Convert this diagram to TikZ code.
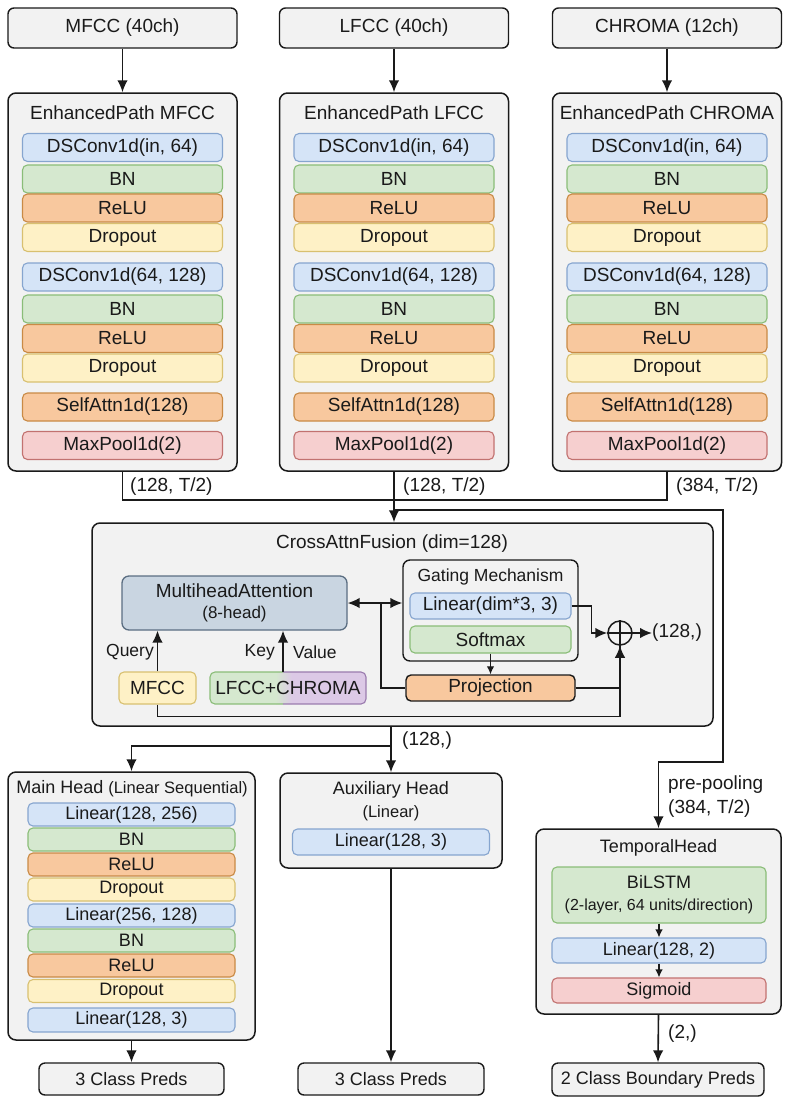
\documentclass[tikz,border=0pt]{standalone}
\usepackage{fontspec}
\setmainfont{Liberation Sans}
\usetikzlibrary{arrows.meta,calc}
\definecolor{bluef}{HTML}{D5E4F7}
\definecolor{blued}{HTML}{86A5CF}
\definecolor{greenf}{HTML}{D5E8CF}
\definecolor{greend}{HTML}{8ABD78}
\definecolor{orangef}{HTML}{F8C89E}
\definecolor{oranged}{HTML}{C98A45}
\definecolor{yellowf}{HTML}{FEF1C6}
\definecolor{yellowd}{HTML}{D8C070}
\definecolor{redf}{HTML}{F6CFCF}
\definecolor{redd}{HTML}{C27270}
\definecolor{grayf}{HTML}{F2F2F2}
\definecolor{mhaf}{HTML}{C9D5E1}
\definecolor{mhad}{HTML}{5B6E82}
\definecolor{purplef}{HTML}{DCC9E6}
\definecolor{purpled}{HTML}{9A7BAE}
\definecolor{inkc}{HTML}{1A1A1A}
\newcommand{\fA}{\fontsize{19}{21}\selectfont}
\newcommand{\fB}{\fontsize{18}{20}\selectfont}
\newcommand{\fS}{\fontsize{16.5}{18}\selectfont}
\newcommand{\enhpath}[4]{%
  \node[io, minimum width=229pt, minimum height=40pt, font=\fA] (#1in) at (#2,28) {#3};
  \node[cont, minimum width=229pt, minimum height=378pt] (#1c) at (#2,282) {};
  \node[font=\fA] (#1t) at (#2,113) {#4};
  \node[layer=blue,   erow] (#1a) at (#2,147.5) {DSConv1d(in, 64)};
  \node[layer=green,  erow] (#1b) at (#2,179) {BN};
  \node[layer=orange, erow] (#1r) at (#2,208) {ReLU};
  \node[layer=yellow, erow] (#1d) at (#2,237.5) {Dropout};
  \node[layer=blue,   erow] (#1e) at (#2,277) {DSConv1d(64, 128)};
  \node[layer=green,  erow] (#1f) at (#2,309) {BN};
  \node[layer=orange, erow] (#1g) at (#2,338.5) {ReLU};
  \node[layer=yellow, erow] (#1h) at (#2,368) {Dropout};
  \node[layer=orange, erow] (#1s) at (#2,407) {SelfAttn1d(128)};
  \node[layer=red,    erow] (#1p) at (#2,445.5) {MaxPool1d(2)};
  \draw[arr] (#1in.south) -- (#1c.north);
}
\begin{document}
\begin{tikzpicture}[x=1pt,y=-1pt,
  every node/.style={text=inkc, inner sep=0pt, font=\fB},
  cont/.style={draw=inkc, fill=grayf, line width=1.5pt, rounded corners=8pt},
  io/.style={draw=inkc, fill=grayf, line width=1.4pt, rounded corners=6pt},
  layer/.style={draw=#1d, fill=#1f, line width=1.1pt, rounded corners=5pt},
  erow/.style={minimum width=200pt, minimum height=28pt, font=\fA},
  mrow/.style={minimum width=207pt, minimum height=23pt, font=\fB},
  trow/.style={minimum width=214pt, minimum height=25pt, font=\fB},
  arr/.style={draw=inkc, line width=1.6pt, -{Latex[length=12pt,width=10.5pt]}},
  sarr/.style={draw=inkc, line width=1.3pt, -{Latex[length=8pt,width=7.5pt]}},
  ln/.style={draw=inkc, line width=1.6pt},
]
\fill[white] (0,0) rectangle (789,1104);
\useasboundingbox (0,0) rectangle (789,1104);

% ---------- enhanced paths ----------
\enhpath{m}{122.5}{MFCC (40ch)}{EnhancedPath MFCC}
\enhpath{l}{394}{LFCC (40ch)}{EnhancedPath LFCC}
\enhpath{c}{667}{CHROMA (12ch)}{EnhancedPath CHROMA}

% ---------- cross attention fusion ----------
\node[cont, minimum width=621pt, minimum height=203pt] (ca) at (402.5,624.5) {};
\node[font=\fA] (cat) at (392,544) {CrossAttnFusion (dim=128)};

\node[draw=mhad, fill=mhaf, line width=1.3pt, rounded corners=7pt,
      minimum width=225pt, minimum height=54pt, align=center] (mha) at (234.5,603)
      {{\fA MultiheadAttention}\\[1pt]{\fontsize{17}{19}\selectfont (8-head)}};

\node[layer=yellow, minimum width=77pt, minimum height=32pt, font=\fA] (mq) at (157.5,688) {MFCC};

% LFCC+CHROMA split fill
\begin{scope}
  \clip[rounded corners=5pt] (210,672) rectangle (366,704);
  \fill[greenf] (210,672) rectangle (276,704);
  \shade[left color=greenf, right color=purplef] (276,672) rectangle (292,704);
  \fill[purplef] (292,672) rectangle (366,704);
\end{scope}
\begin{scope}
  \clip (200,660) rectangle (283,716);
  \draw[greend, line width=1.1pt, rounded corners=5pt] (210,672) rectangle (366,704);
\end{scope}
\begin{scope}
  \clip (283,660) rectangle (380,716);
  \draw[purpled, line width=1.1pt, rounded corners=5pt] (210,672) rectangle (366,704);
\end{scope}
\node[minimum width=156pt, minimum height=32pt, font=\fA] (kv) at (288,688) {LFCC+CHROMA};

\node[font=\fontsize{17.5}{19}\selectfont, anchor=east] (q) at (154,652) {Query};
\node[font=\fontsize{17.5}{19}\selectfont, anchor=east] (k) at (275,652) {Key};
\node[font=\fontsize{17.5}{19}\selectfont, anchor=west] (v) at (293,652) {Value};

\draw[arr] (mq.north) -- (mq.north |- mha.south);
\coordinate (kvup) at (283,672);
\draw[arr] (kvup) -- (kvup |- mha.south);

% gating
\node[draw=inkc, fill=grayf, line width=1.4pt, rounded corners=7pt,
      minimum width=175pt, minimum height=101pt] (gate) at (490.5,610.5) {};
\node[font=\fontsize{17.5}{19}\selectfont] (gt) at (490.5,577) {Gating Mechanism};
\node[layer=blue, minimum width=161pt, minimum height=26pt, font=\fA] (glin) at (490.5,606) {Linear(dim*3, 3)};
\node[layer=green, minimum width=161pt, minimum height=27pt, font=\fA] (soft) at (490.5,639.5) {Softmax};
\node[draw=inkc, fill=orangef, line width=1.4pt, rounded corners=5pt,
      minimum width=169pt, minimum height=26pt, font=\fA] (proj) at (490.5,688) {Projection};

\node[circle, draw=inkc, line width=1.5pt, minimum size=24pt] (op) at (620,633) {};
\draw[ln] (op.north) -- (op.south) (op.west) -- (op.east);

\draw[ln, {Latex[length=12pt,width=10.5pt]}-{Latex[length=12pt,width=10.5pt]}] (mha.east) -- (mha.east -| gate.west);
\coordinate (br) at ($(mha.east)!0.607!(mha.east -| gate.west)$);
\draw[ln] (br) |- (proj.west);
\draw[sarr] (soft.south) -- (proj.north);
\draw[arr] (glin.east) -- ++(20,0) |- (op.west);
\draw[ln] (proj.east) -| (op.south);
\draw[arr] (mq.south) -- ++(0,12) -| (op.south);
\coordinate (fo) at (652,633);
\draw[arr] (op.east) -- (fo);
\node[font=\fA, anchor=west] (fol) at (fo) {(128,)};

% ---------- connectors from paths ----------
\coordinate (j2) at (394,500);
\draw[ln] (mc.south) |- (j2);
\draw[ln] (cc.south) |- (j2);
\draw[arr] (lc.south) -- (lc.south |- ca.north);
\node[font=\fA, anchor=west] (o1) at (130,487) {(128, T/2)};
\node[font=\fA, anchor=west] (o2) at (403,487) {(128, T/2)};
\node[font=\fA, anchor=west] (o3) at (676,487) {(384, T/2)};

% ---------- heads ----------
\node[cont, minimum width=247pt, minimum height=268pt] (mh) at (131.5,906) {};
\node (mht) at (132,789) {Main Head {\fontsize{16.5}{18}\selectfont (Linear Sequential)}};
\node[layer=blue,   mrow] (m1) at (131.5,814.5) {Linear(128, 256)};
\node[layer=green,  mrow] (m2) at (131.5,839.5) {BN};
\node[layer=orange, mrow] (m3) at (131.5,864.5) {ReLU};
\node[layer=yellow, mrow] (m4) at (131.5,889.5) {Dropout};
\node[layer=blue,   mrow] (m5) at (131.5,915.5) {Linear(256, 128)};
\node[layer=green,  mrow] (m6) at (131.5,940.5) {BN};
\node[layer=orange, mrow] (m7) at (131.5,965.5) {ReLU};
\node[layer=yellow, mrow] (m8) at (131.5,991) {Dropout};
\node[layer=blue,   mrow, minimum height=24pt] (m9) at (131.5,1020) {Linear(128, 3)};

\node[cont, minimum width=222pt, minimum height=95pt] (aux) at (391,820.5) {};
\node (auxt) at (391,790) {Auxiliary Head};
\node[font=\fS] (auxs) at (391,813) {(Linear)};
\node[layer=blue, minimum width=197pt, minimum height=26pt] (a1) at (391,842) {Linear(128, 3)};

\node[cont, minimum width=245pt, minimum height=185pt] (th) at (658.5,921.5) {};
\node (tht) at (658.5,848) {TemporalHead};
\node[layer=green, minimum width=214pt, minimum height=56pt, align=center] (bl) at (659,895)
      {BiLSTM\\[2pt]{\fontsize{16}{18}\selectfont (2-layer, 64 units/direction)}};
\node[layer=blue, trow] (t2) at (659,950.5) {Linear(128, 2)};
\node[layer=red,  trow] (t3) at (659,990.5) {Sigmoid};
\draw[sarr] (bl.south) -- (t2.north);
\draw[sarr] (t2.south) -- (t3.north);

% outputs
\node[io, minimum width=185pt, minimum height=32pt] (p1) at (131.5,1079) {3 Class Preds};
\node[io, minimum width=186pt, minimum height=32pt] (p2) at (391,1079) {3 Class Preds};
\node[io, minimum width=212pt, minimum height=33pt] (p3) at (658,1079.5) {2 Class Boundary Preds};

% head connectors
\draw[arr] (aux.north |- ca.south) -- (aux.north);
\node[font=\fA, anchor=west] (cao) at (402,741) {(128,)};
\coordinate (j1) at (391,746);
\draw[arr] (j1) -| (mh.north);
\draw[arr] (mh.south) -- (p1.north);
\draw[arr] (aux.south) -- (p2.north);
\draw[arr] (th.south) -- (p3.north);
\node[font=\fA, anchor=west] (tl) at (668,1034) {(2,)};

\coordinate (j3) at (394,510);
\coordinate (j4) at (723,762);
\draw[arr] (j3) -| (j4) -| (th.north);
\node[font=\fA, anchor=west] (pp1) at (668,785) {pre-pooling};
\node[font=\fA, anchor=west] (pp2) at (668,809) {(384, T/2)};
\end{tikzpicture}
\end{document}
